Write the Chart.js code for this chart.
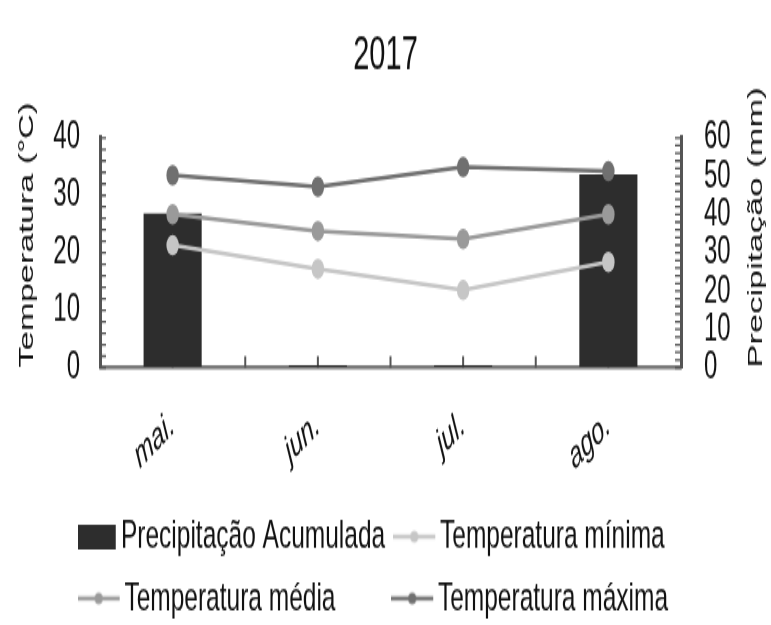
<!DOCTYPE html>
<html>
<head>
<meta charset="utf-8">
<script src="https://cdn.jsdelivr.net/npm/chart.js@4.4.0/dist/chart.umd.min.js"></script>
<style>
  html, body { margin: 0; padding: 0; background: #fff; overflow: hidden; }
  #wrap { width: 771px; height: 625px; overflow: hidden; }
  /* the reference is squeezed sideways, so draw flat and stretch vertically */
  #box { width: 771px; height: 400px; transform-origin: 0 0; transform: scaleY(1.645); }
</style>
</head>
<body>
<div id="wrap"><div id="box"><canvas id="chart" width="771" height="400"></canvas></div></div>
<script>
const meses = ['mai.', 'jun.', 'jul.', 'ago.'];
const precipitacao = [40.3, 0.6, 0.6, 50.5];
const tempMinima = [21.3, 17.2, 13.5, 18.4];
const tempMedia = [26.7, 23.8, 22.4, 26.7];
const tempMaxima = [33.5, 31.5, 34.9, 34.2];
const ticksTemp = [0, 10, 20, 30, 40];
const ticksPrec = [0, 10, 20, 30, 40, 50, 60];

const fonte = "'Liberation Sans', Arial, sans-serif";
const corBarra = '#2d2d2d';
const corMin = '#c6c6c6';
const corMed = '#9a9a9a';
const corMax = '#707070';
const corEixo = '#555';

// legend markers (drawn centred on the box, so content sits to the left)
function marcaBarra(cor) {
  const c = document.createElement('canvas');
  c.width = 46; c.height = 15;
  const g = c.getContext('2d');
  g.fillStyle = cor;
  g.fillRect(0, 0, 38, 15);
  return c;
}
function marcaLinha(cor) {
  const c = document.createElement('canvas');
  c.width = 53; c.height = 10;
  const g = c.getContext('2d');
  g.strokeStyle = cor; g.lineWidth = 2.5;
  g.beginPath(); g.moveTo(0, 5); g.lineTo(42, 5); g.stroke();
  g.fillStyle = cor;
  g.beginPath(); g.ellipse(21, 5, 4, 3.5, 0, 0, Math.PI * 2); g.fill();
  return c;
}
const marcas = [marcaBarra(corBarra), marcaLinha(corMin), marcaLinha(corMed), marcaLinha(corMax)];
// trailing spaces keep the legend in two columns like the original
const folga = [2, 2, 9, 1];

//AXIS TITLES + INWARD TICKS
const eixos = {
  id: 'eixos',
  beforeDatasetsDraw(chart) {
    const ctx = chart.ctx;
    const {left, right, bottom} = chart.chartArea;
    const y = chart.scales.y, y1 = chart.scales.y1, x = chart.scales.x;
    ctx.save();
    ctx.strokeStyle = corEixo;
    ctx.lineWidth = 1.3;
    ctx.beginPath();
    for (let v = 0; v <= 40; v += 2) {
      const p = y.getPixelForValue(v);
      ctx.moveTo(left, p); ctx.lineTo(left + 6, p);
    }
    for (let v = 0; v <= 60; v += 2) {
      const p = y1.getPixelForValue(v);
      ctx.moveTo(right, p); ctx.lineTo(right - 6, p);
    }
    ctx.stroke();
    ctx.lineWidth = 2;
    ctx.beginPath();
    const w = x.getPixelForValue(1) - x.getPixelForValue(0);
    for (let i = 0; i < meses.length; i++) {
      const c = x.getPixelForValue(i);
      ctx.moveTo(c, bottom); ctx.lineTo(c, bottom - 7);
      if (i < meses.length - 1) { ctx.moveTo(c + w / 2, bottom); ctx.lineTo(c + w / 2, bottom - 7); }
    }
    ctx.stroke();
    ctx.restore();
  },
  afterDraw(chart) {
    const ctx = chart.ctx;
    const {bottom} = chart.chartArea;
    [['Temperatura (°C)', 27], ['Precipitação (mm)', 756]].forEach(([txt, px]) => {
      ctx.save();
      ctx.fillStyle = '#111';
      ctx.font = '21px ' + fonte;
      ctx.textAlign = 'left';
      ctx.textBaseline = 'middle';
      ctx.translate(px, bottom); ctx.rotate(-Math.PI / 2);
      ctx.fillText(txt, 0, 0);
      ctx.restore();
    });
  }
};

new Chart(document.getElementById('chart'), {
  type: 'bar',
  data: {
    labels: meses,
    datasets: [
      { type: 'bar', label: 'Precipitação Acumulada', data: precipitacao, yAxisID: 'y1',
        backgroundColor: corBarra, barPercentage: 0.4, categoryPercentage: 1, order: 2 },
      { type: 'line', label: 'Temperatura mínima', data: tempMinima, yAxisID: 'y',
        borderColor: corMin, backgroundColor: corMin, borderWidth: 2.5, pointRadius: 5, order: 1 },
      { type: 'line', label: 'Temperatura média', data: tempMedia, yAxisID: 'y',
        borderColor: corMed, backgroundColor: corMed, borderWidth: 2.5, pointRadius: 5, order: 1 },
      { type: 'line', label: 'Temperatura máxima', data: tempMaxima, yAxisID: 'y',
        borderColor: corMax, backgroundColor: corMax, borderWidth: 2.5, pointRadius: 5, order: 1 }
    ]
  },
  options: {
    responsive: false,
    animation: false,
    layout: { padding: { bottom: 14 } },
    scales: {
      x: {
        offset: true,
        grid: { display: true, drawOnChartArea: false, drawTicks: false },
        border: { display: true, color: '#7a7a7a', width: 2.5 },
        ticks: { color: '#111', font: { family: fonte, size: 23, style: 'italic' },
                 minRotation: 33, maxRotation: 33, padding: 21 },
        afterFit: s => { s.height = 77.5; }
      },
      y: {
        position: 'left', min: 0, max: 40,
        afterBuildTicks: s => { s.ticks = ticksTemp.map(v => ({ value: v })); },
        grid: { display: true, drawOnChartArea: false, drawTicks: false },
        border: { display: true, color: corEixo, width: 3 },
        ticks: { color: '#111', font: { family: fonte, size: 24 }, padding: 20, autoSkip: false },
        afterFit: s => { s.width = 100; }
      },
      y1: {
        position: 'right', min: 0, max: 60,
        afterBuildTicks: s => { s.ticks = ticksPrec.map(v => ({ value: v })); },
        grid: { display: true, drawOnChartArea: false, drawTicks: false },
        border: { display: true, color: corEixo, width: 3 },
        ticks: { color: '#111', font: { family: fonte, size: 24 }, padding: 23, autoSkip: false },
        afterFit: s => { s.width = 90; }
      }
    },
    plugins: {
      title: { display: true, text: '2017', color: '#111',
               font: { family: fonte, size: 29, weight: 'normal' }, padding: { top: 17, bottom: 32 } },
      tooltip: { enabled: false },
      legend: {
        position: 'bottom',
        labels: {
          color: '#111', font: { family: fonte, size: 24.5 }, padding: 13,
          usePointStyle: true, pointStyleWidth: 16,
          sort: (a, b) => a.datasetIndex - b.datasetIndex,
          generateLabels: chart => Chart.defaults.plugins.legend.labels.generateLabels(chart)
            .map(it => Object.assign(it, {
              pointStyle: marcas[it.datasetIndex],
              text: it.text + ' '.repeat(folga[it.datasetIndex])
            }))
        }
      }
    }
  },
  plugins: [eixos]
});
</script>
</body>
</html>
